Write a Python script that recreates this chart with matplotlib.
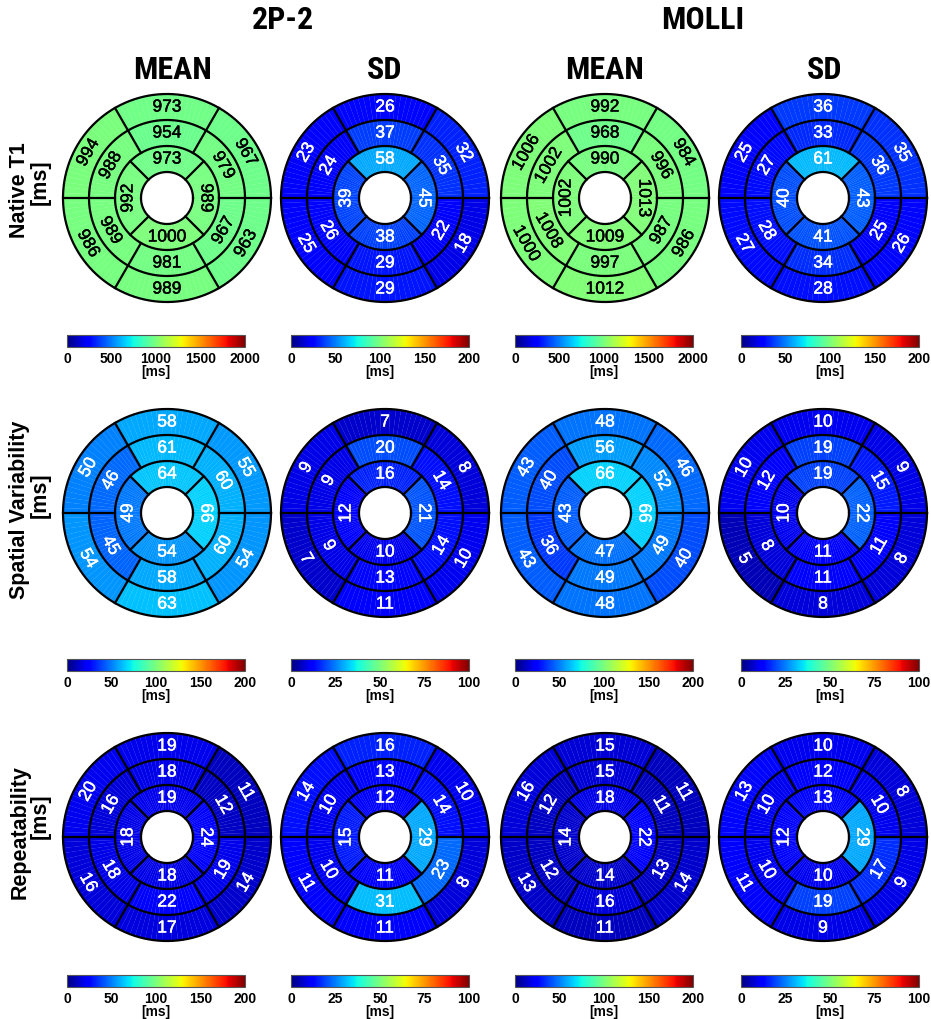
import numpy as np
import matplotlib
matplotlib.use("Agg")
import matplotlib.pyplot as plt
import matplotlib.patheffects as pe
from matplotlib import font_manager
from matplotlib.font_manager import FontProperties
from matplotlib.colors import Normalize
from matplotlib.cm import ScalarMappable

# ---- segment values (AHA order: basal 1-6, mid 7-12, apical 13-16) ----
# basal/mid order: anterior, anteroseptal, inferoseptal, inferior, inferolateral, anterolateral
# apical order: anterior, septal, inferior, lateral
t1_2p2_mean_basal = [973, 994, 986, 989, 963, 967]
t1_2p2_mean_mid = [954, 988, 989, 981, 967, 979]
t1_2p2_mean_apex = [973, 992, 1000, 989]
t1_2p2_sd_basal = [26, 23, 25, 29, 18, 32]
t1_2p2_sd_mid = [37, 24, 26, 29, 22, 35]
t1_2p2_sd_apex = [58, 39, 38, 45]
t1_molli_mean_basal = [992, 1006, 1000, 1012, 986, 984]
t1_molli_mean_mid = [968, 1002, 1008, 997, 987, 996]
t1_molli_mean_apex = [990, 1002, 1009, 1013]
t1_molli_sd_basal = [36, 25, 27, 28, 26, 35]
t1_molli_sd_mid = [33, 27, 28, 34, 25, 36]
t1_molli_sd_apex = [61, 40, 41, 43]

sv_2p2_mean_basal = [58, 50, 54, 63, 54, 55]
sv_2p2_mean_mid = [61, 46, 45, 58, 60, 60]
sv_2p2_mean_apex = [64, 49, 54, 66]
sv_2p2_sd_basal = [7, 9, 7, 11, 10, 8]
sv_2p2_sd_mid = [20, 9, 9, 13, 14, 14]
sv_2p2_sd_apex = [16, 12, 10, 21]
sv_molli_mean_basal = [48, 43, 43, 48, 40, 46]
sv_molli_mean_mid = [56, 40, 36, 49, 49, 52]
sv_molli_mean_apex = [66, 43, 47, 66]
sv_molli_sd_basal = [10, 10, 5, 8, 8, 9]
sv_molli_sd_mid = [19, 12, 8, 11, 11, 15]
sv_molli_sd_apex = [19, 10, 11, 22]

rp_2p2_mean_basal = [19, 20, 16, 17, 14, 11]
rp_2p2_mean_mid = [18, 16, 18, 22, 19, 12]
rp_2p2_mean_apex = [19, 18, 18, 24]
rp_2p2_sd_basal = [16, 14, 11, 11, 8, 10]
rp_2p2_sd_mid = [13, 10, 10, 31, 23, 14]
rp_2p2_sd_apex = [12, 15, 11, 29]
rp_molli_mean_basal = [15, 16, 13, 11, 14, 11]
rp_molli_mean_mid = [15, 12, 12, 16, 13, 11]
rp_molli_mean_apex = [18, 14, 14, 22]
rp_molli_sd_basal = [10, 13, 11, 9, 9, 8]
rp_molli_sd_mid = [12, 10, 10, 19, 17, 10]
rp_molli_sd_apex = [13, 12, 10, 29]

group_titles = ["2P-2", "MOLLI"]
column_titles = ["MEAN", "SD", "MEAN", "SD"]
row_titles = ["Native T1", "Spatial Variability", "Repeatability"]
unit_label = "[ms]"

t1_mean_ticks = [0, 500, 1000, 1500, 2000]
ms200_ticks = [0, 50, 100, 150, 200]
ms100_ticks = [0, 25, 50, 75, 100]

panels = [
    [(t1_2p2_mean_basal, t1_2p2_mean_mid, t1_2p2_mean_apex, t1_mean_ticks, "black"),
     (t1_2p2_sd_basal, t1_2p2_sd_mid, t1_2p2_sd_apex, ms200_ticks, "white"),
     (t1_molli_mean_basal, t1_molli_mean_mid, t1_molli_mean_apex, t1_mean_ticks, "black"),
     (t1_molli_sd_basal, t1_molli_sd_mid, t1_molli_sd_apex, ms200_ticks, "white")],
    [(sv_2p2_mean_basal, sv_2p2_mean_mid, sv_2p2_mean_apex, ms200_ticks, "white"),
     (sv_2p2_sd_basal, sv_2p2_sd_mid, sv_2p2_sd_apex, ms100_ticks, "white"),
     (sv_molli_mean_basal, sv_molli_mean_mid, sv_molli_mean_apex, ms200_ticks, "white"),
     (sv_molli_sd_basal, sv_molli_sd_mid, sv_molli_sd_apex, ms100_ticks, "white")],
    [(rp_2p2_mean_basal, rp_2p2_mean_mid, rp_2p2_mean_apex, ms200_ticks, "white"),
     (rp_2p2_sd_basal, rp_2p2_sd_mid, rp_2p2_sd_apex, ms100_ticks, "white"),
     (rp_molli_mean_basal, rp_molli_mean_mid, rp_molli_mean_apex, ms200_ticks, "white"),
     (rp_molli_sd_basal, rp_molli_sd_mid, rp_molli_sd_apex, ms100_ticks, "white")],
]

# ---- fonts ----
SANS = "Liberation Sans"
plt.rcParams["font.family"] = [SANS, "DejaVu Sans"]


def condensed_bold():
    """Pick a narrow bold face for the headings, if one is installed."""
    entries = font_manager.fontManager.ttflist
    for fam in ("Liberation Sans Narrow", "Roboto Condensed", "Open Sans Condensed",
                "Noto Sans", "Open Sans", "Roboto"):
        for f in entries:
            st = str(f.stretch).lower()
            wt = f.weight if isinstance(f.weight, int) else {"bold": 700}.get(str(f.weight), 400)
            narrow = ("condensed" in st) or ("narrow" in f.name.lower()) or \
                     (st.isdigit() and int(st) < 500)
            if f.name == fam and wt >= 700 and narrow and "italic" not in str(f.style):
                return FontProperties(fname=f.fname), 23
    return FontProperties(family=SANS, weight="bold"), 20


HEAD_FP, HEAD_SIZE = condensed_bold()

W, H = 931, 1020
fig = plt.figure(figsize=(W / 100, H / 100), dpi=100)

col_cx = [167, 385, 605, 823]
row_cy = [199, 514, 838]
cbar_cx = [156, 380, 604, 830]
cbar_cy = [342, 666, 982]
PX_PER_UNIT = 26.0
LIM = 4.12
CBAR_W, CBAR_H = 178, 12


def px_rect(x0, y0, w, h):
    return [x0 / W, 1 - (y0 + h) / H, w / W, h / H]


def bullseye(ax, basal, mid, apex, norm, txt_color):
    cmap = plt.get_cmap("jet")
    # fine polar mesh so every segment is a curved band
    step = 3.0
    th_edges = np.deg2rad(np.arange(0, 360 + step, step))
    th_mid = np.rad2deg(th_edges[:-1]) + step / 2
    r_edges = np.array([1.0, 2.0, 3.0, 4.0])
    C = np.zeros((3, len(th_mid)))
    # apical ring: 4 sectors centred on 90, 180, 270, 0 deg
    k4 = (((th_mid - 45) % 360) // 90).astype(int)
    C[0] = np.array(apex)[k4]
    # mid / basal rings: 6 sectors centred on 90, 150, 210, 270, 330, 30 deg
    k6 = (((th_mid - 60) % 360) // 60).astype(int)
    C[1] = np.array(mid)[k6]
    C[2] = np.array(basal)[k6]
    TT, RR = np.meshgrid(th_edges, r_edges)
    X, Y = RR * np.cos(TT), RR * np.sin(TT)
    ax.pcolormesh(X, Y, C, cmap=cmap, norm=norm, shading="flat",
                  antialiased=True, edgecolors="face", linewidth=0.15)

    # segment borders
    t = np.linspace(0, 2 * np.pi, 400)
    for r in (1, 2, 3, 4):
        ax.plot(r * np.cos(t), r * np.sin(t), color="black", lw=1.6)
    for a in range(0, 360, 60):
        ra = np.deg2rad(a)
        ax.plot([2 * np.cos(ra), 4 * np.cos(ra)], [2 * np.sin(ra), 4 * np.sin(ra)],
                color="black", lw=1.6)
    for a in (45, 135, 225, 315):
        ra = np.deg2rad(a)
        ax.plot([np.cos(ra), 2 * np.cos(ra)], [np.sin(ra), 2 * np.sin(ra)],
                color="black", lw=1.6)

    # tangential value labels, slightly emboldened
    effects = [pe.Stroke(linewidth=0.35, foreground=txt_color), pe.Normal()]

    def put(val, ang, r):
        rad = np.deg2rad(ang)
        a = ang % 360
        if 0 < a < 180:
            rot = a - 90
        elif a == 0:
            rot = -90
        elif a == 180:
            rot = 90
        else:
            rot = a - 270
        ax.text(r * np.cos(rad), r * np.sin(rad), f"{val}", color=txt_color,
                rotation=rot, ha="center", va="center", fontsize=12.5,
                rotation_mode="anchor", path_effects=effects)

    for i, v in enumerate(basal):
        put(v, 90 + 60 * i, 3.5)
    for i, v in enumerate(mid):
        put(v, 90 + 60 * i, 2.5)
    for i, v in enumerate(apex):
        put(v, 90 + 90 * i, 1.5)

    ax.set_xlim(-LIM, LIM)
    ax.set_ylim(-LIM, LIM)
    ax.set_aspect("equal")
    ax.axis("off")


half = LIM * PX_PER_UNIT
for ri, row in enumerate(panels):
    for ci, (basal, mid, apex, ticks, tc) in enumerate(row):
        ax = fig.add_axes(px_rect(col_cx[ci] - half, row_cy[ri] - half, 2 * half, 2 * half))
        norm = Normalize(vmin=ticks[0], vmax=ticks[-1])
        bullseye(ax, basal, mid, apex, norm, tc)

        cax = fig.add_axes(px_rect(cbar_cx[ci] - CBAR_W / 2, cbar_cy[ri] - CBAR_H / 2,
                                   CBAR_W, CBAR_H))
        sm = ScalarMappable(norm=norm, cmap="jet")
        cb = fig.colorbar(sm, cax=cax, orientation="horizontal", ticks=ticks)
        cb.outline.set_edgecolor("#555555")
        cb.outline.set_linewidth(0.8)
        cax.tick_params(length=0, pad=3, labelsize=10)
        cax.set_xticklabels([str(t) for t in ticks])
        for lab in cax.get_xticklabels():
            lab.set_fontweight("bold")
        fig.text(cbar_cx[ci] / W, 1 - (cbar_cy[ri] + 30) / H, unit_label,
                 ha="center", va="center", fontsize=10, fontweight="bold")

# headings
for x, s in zip([283, 703], group_titles):
    fig.text(x / W, 1 - 20 / H, s, ha="center", va="center", fontsize=HEAD_SIZE,
             fontproperties=HEAD_FP)
for x, s in zip([173, 385, 605, 825], column_titles):
    fig.text(x / W, 1 - 70 / H, s, ha="center", va="center", fontsize=HEAD_SIZE,
             fontproperties=HEAD_FP)
for t in fig.texts[-6:]:
    t.set_fontsize(HEAD_SIZE)
    t.set_fontweight("bold")

# row labels
row_label_cy = [190, 510, 832]
unit_cy = [182, 495, 816]
for s, cy, uy in zip(row_titles, row_label_cy, unit_cy):
    fig.text(20 / W, 1 - cy / H, s, rotation=90, ha="center", va="center",
             fontsize=15.5, fontweight="bold")
    fig.text(40 / W, 1 - uy / H, unit_label, rotation=90, ha="center", va="center",
             fontsize=15.5, fontweight="bold")

fig.savefig("out.png", dpi=100, facecolor="white")
